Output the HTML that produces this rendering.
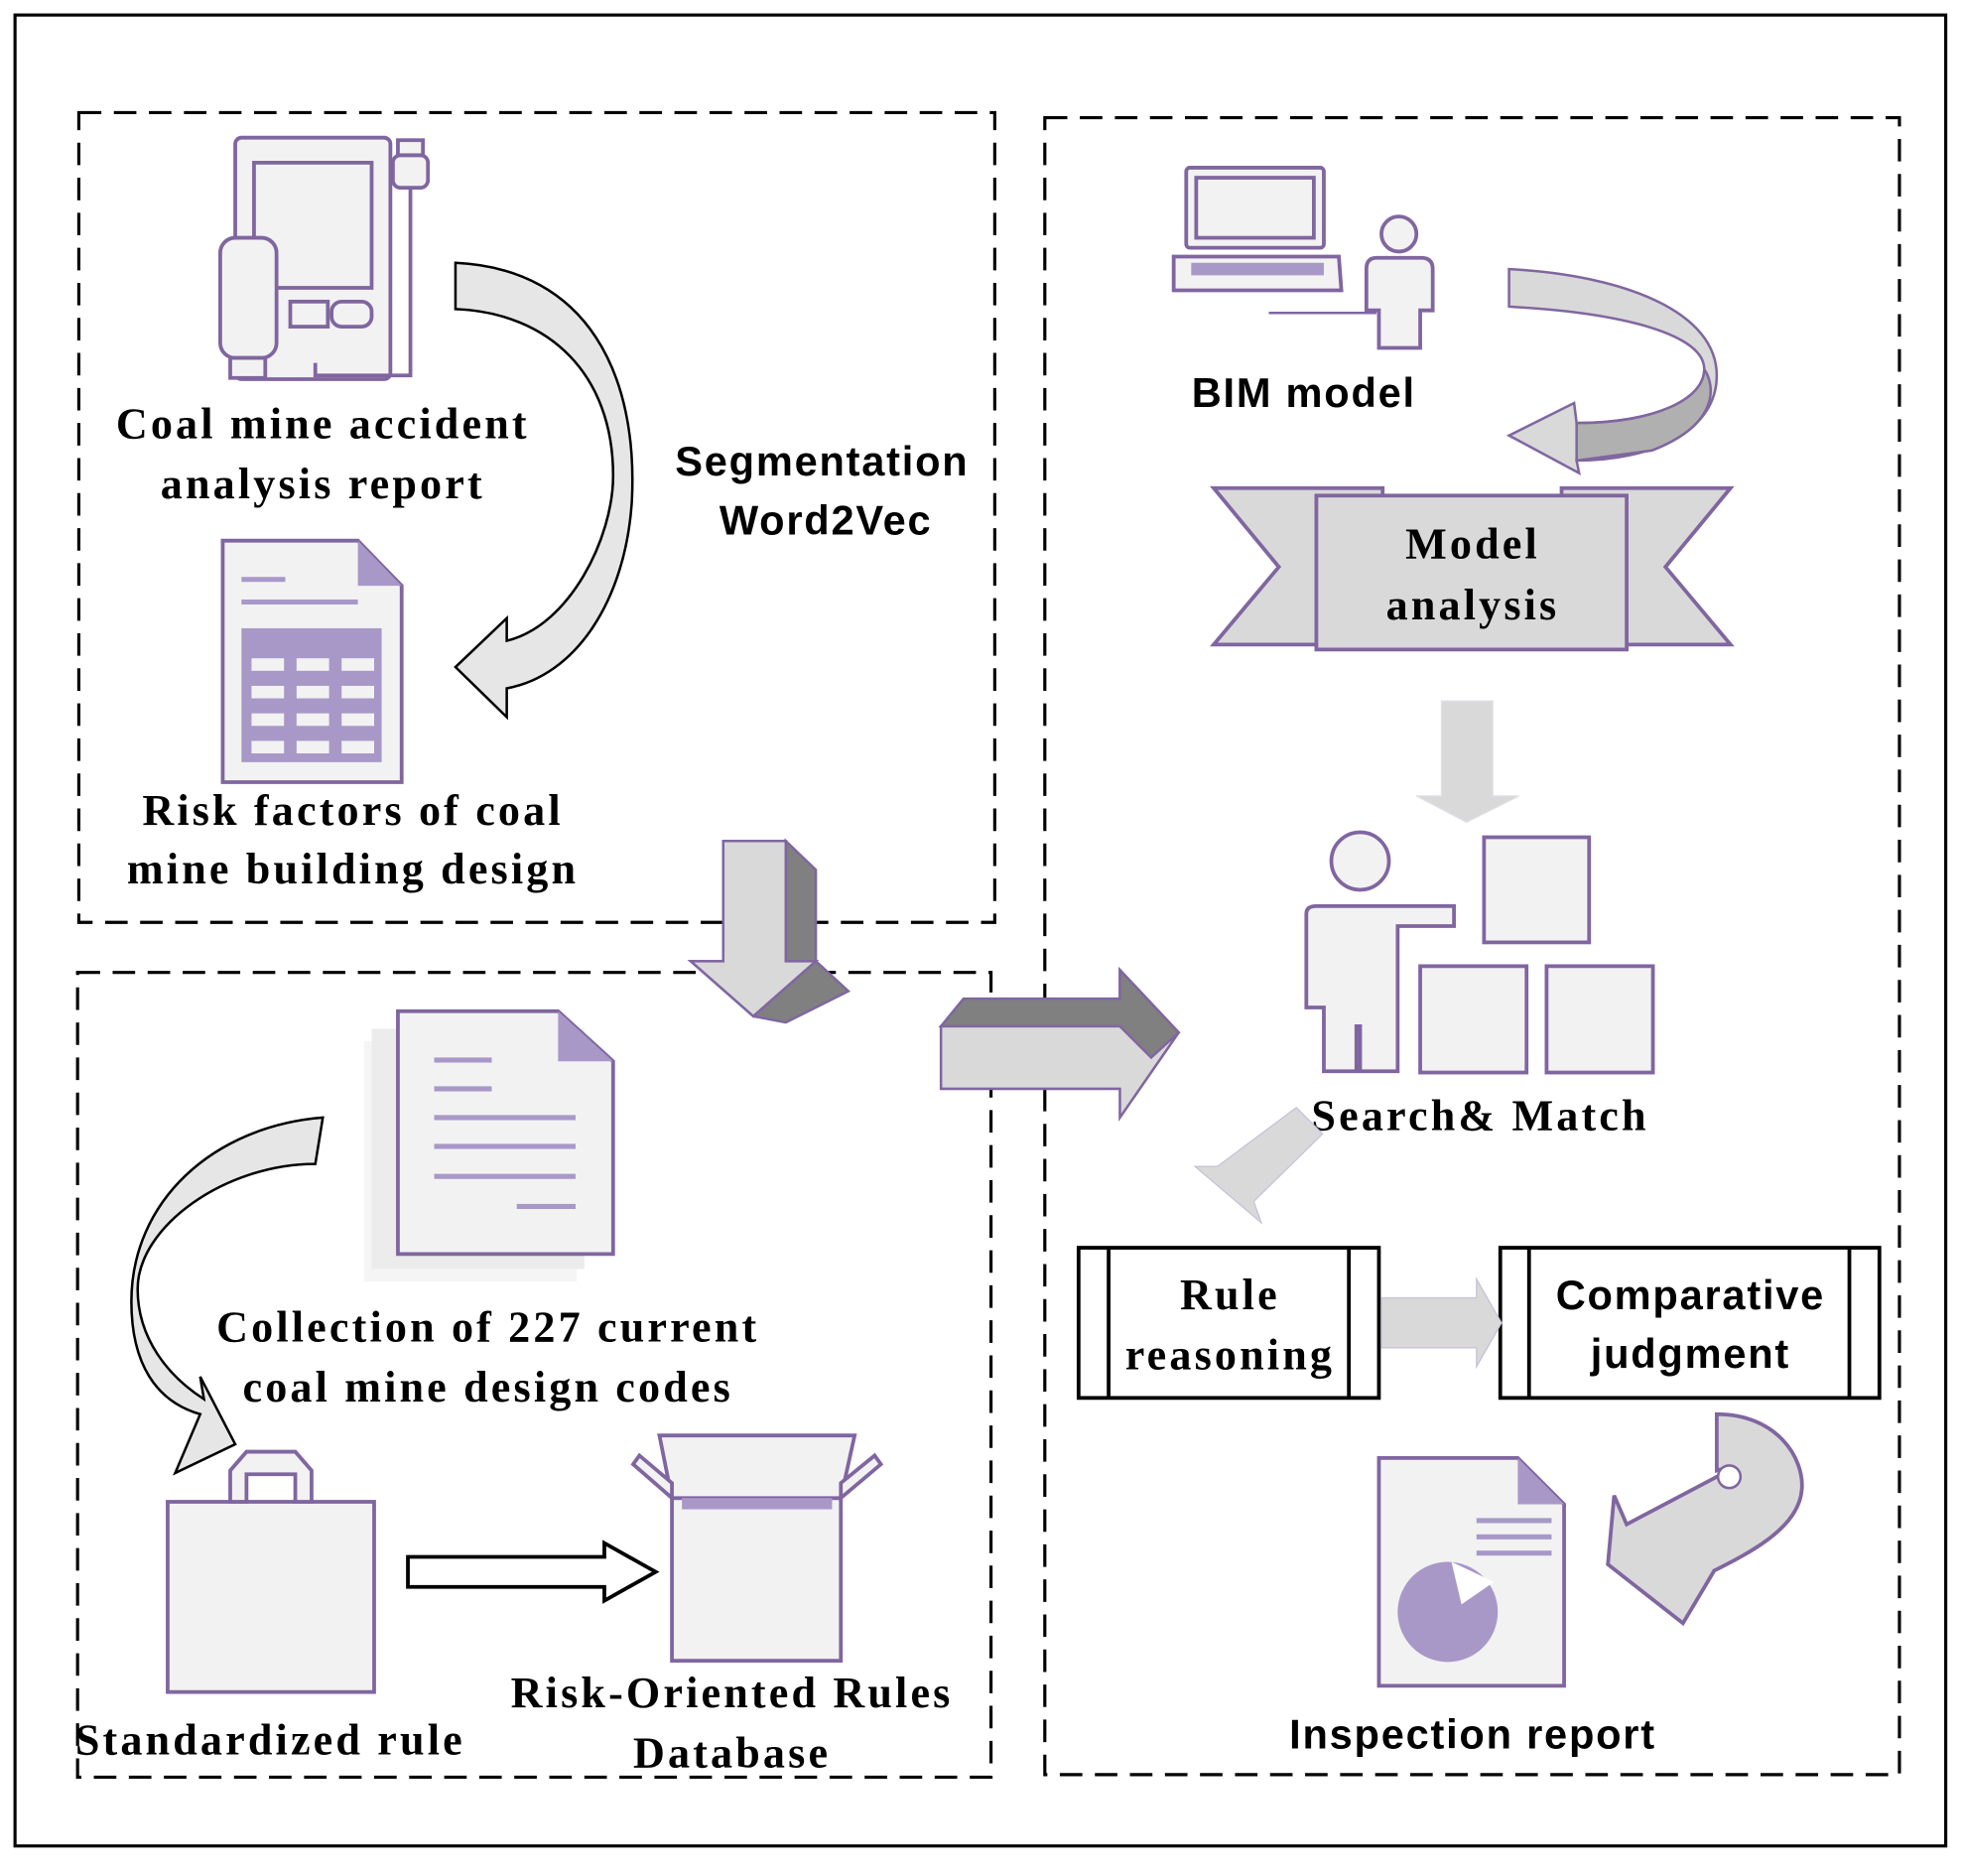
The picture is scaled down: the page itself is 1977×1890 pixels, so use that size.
<!DOCTYPE html>
<html><head><meta charset="utf-8"><style>html,body{margin:0;padding:0;background:#fff}svg{display:block}
.s{font-family:"Liberation Serif",serif;font-weight:bold;font-size:35px;text-anchor:middle;letter-spacing:2.5px}
.a{font-family:"Liberation Sans",sans-serif;font-weight:bold;font-size:33px;text-anchor:middle;letter-spacing:1.4px}
.p{fill:#f2f2f2;stroke:#8066a0;stroke-width:3}
.d{fill:none;stroke:#000;stroke-width:2.5;stroke-dasharray:18 10}
</style></head><body>
<svg width="1977" height="1890" viewBox="0 0 1568 1499" preserveAspectRatio="none" xmlns="http://www.w3.org/2000/svg">
<rect x="12" y="12" width="1543" height="1463" fill="none" stroke="#000" stroke-width="2.5"/>
<rect class="d" x="63" y="90" width="732" height="647"/>
<rect class="d" x="62" y="777" width="730" height="643"/>
<rect class="d" x="835" y="94" width="683" height="1324"/>

<rect class="p" x="188" y="110" width="124" height="193" rx="5"/>
<rect class="p" x="203" y="130" width="94" height="100"/>
<rect class="p" x="232" y="241" width="30" height="20"/><rect class="p" x="265" y="241" width="32" height="20" rx="8"/>
<rect class="p" x="176" y="190" width="45" height="96" rx="12"/>
<rect class="p" x="184" y="286" width="28" height="16"/>
<path d="M328 140 V300 H252 V290" fill="none" stroke="#8066a0" stroke-width="3"/>
<rect class="p" x="314" y="124" width="28" height="26" rx="6"/><rect class="p" x="318" y="112" width="20" height="12"/>

<path d="M364 210 C470 215 510 300 505 400 C500 480 460 540 405 550 L405 573 L364 533 L405 494 L405 512 C455 500 490 430 490 380 C490 300 440 250 364 247 Z" fill="#e6e6e6" stroke="#000" stroke-width="2"/>

<path class="p" d="M178 432 H286 L321 468 V625 H178 Z"/>
<path d="M286 432 V468 H321 Z" fill="#a898c8"/>
<line x1="193" y1="463" x2="228" y2="463" stroke="#a898c8" stroke-width="4"/>
<line x1="193" y1="481" x2="286" y2="481" stroke="#a898c8" stroke-width="4"/>
<rect x="193" y="502" width="112" height="107" fill="#a898c8"/>
<g fill="#f2f2f2">
<rect x="201" y="526" width="26" height="10"/><rect x="237" y="526" width="26" height="10"/><rect x="273" y="526" width="26" height="10"/>
<rect x="201" y="548" width="26" height="10"/><rect x="237" y="548" width="26" height="10"/><rect x="273" y="548" width="26" height="10"/>
<rect x="201" y="570" width="26" height="10"/><rect x="237" y="570" width="26" height="10"/><rect x="273" y="570" width="26" height="10"/>
<rect x="201" y="592" width="26" height="10"/><rect x="237" y="592" width="26" height="10"/><rect x="273" y="592" width="26" height="10"/>
</g>

<text class="s" x="258" y="350">Coal mine accident</text>
<text class="s" x="258" y="398">analysis report</text>
<text class="a" x="657" y="380">Segmentation</text>
<text class="a" x="660" y="427">Word2Vec</text>
<text class="s" x="282" y="659">Risk factors of coal</text>
<text class="s" x="282" y="706">mine building design</text>

<path d="M578 672 H628 V768 H552 L602 812 L628 768 V672 L652 695 V768 L678 792 L628 817 L602 812" fill="#808080" stroke="#8066a0" stroke-width="2"/>
<path d="M578 672 H628 V768 H652 L602 812 L552 768 H578 Z" fill="#d9d9d9" stroke="#8066a0" stroke-width="2"/>

<path d="M752 820 H895 V775 L942 825 L895 893 V870 H752 Z" fill="#d9d9d9" stroke="#8066a0" stroke-width="2"/>
<path d="M752 820 L770 798 H895 V775 L942 825 L920 845 L895 820 Z" fill="#808080" stroke="#8066a0" stroke-width="2"/>

<rect class="p" x="948" y="134" width="110" height="64" rx="3"/>
<rect class="p" x="956" y="142" width="94" height="48"/>
<path class="p" d="M938 205 H1070 L1072 232 H938 Z"/>
<rect x="952" y="210" width="106" height="10" fill="#a898c8"/>
<line x1="1014" y1="250" x2="1100" y2="250" stroke="#8066a0" stroke-width="2"/>
<circle class="p" cx="1118" cy="187" r="14"/>
<path class="p" d="M1100 206 H1136 Q1145 206 1145 215 V248 H1135 V278 H1102 V248 H1092 V215 Q1092 206 1100 206 Z"/>
<text class="a" x="1042" y="325">BIM model</text>

<path d="M1206 215 C1300 220 1372 250 1372 300 C1372 345 1320 368 1260 368 L1262 378 L1206 348 L1258 322 L1260 338 C1320 338 1362 320 1362 295 C1362 268 1300 250 1206 245 Z" fill="#d9d9d9" stroke="#8066a0" stroke-width="2"/>
<path d="M1362 295 C1372 310 1372 340 1320 360 L1260 368 L1260 338 C1320 338 1362 320 1362 295Z" fill="#b0b0b0" stroke="#8066a0" stroke-width="2"/>

<path d="M970 390 H1105 V515 H970 L1022 453 Z" fill="#d9d9d9" stroke="#8066a0" stroke-width="3"/>
<path d="M1383 390 H1248 V515 H1383 L1331 453 Z" fill="#d9d9d9" stroke="#8066a0" stroke-width="3"/>
<rect x="1052" y="396" width="248" height="123" fill="#d9d9d9" stroke="#8066a0" stroke-width="3"/>
<text class="s" x="1177" y="446">Model</text>
<text class="s" x="1177" y="495">analysis</text>

<path d="M1152 560 H1193 V636 H1214 L1172 657 L1132 636 H1152 Z" fill="#d9d9d9" stroke="#e0e0e8" stroke-width="1"/>

<circle class="p" cx="1087" cy="688" r="23"/>
<path class="p" d="M1052 724 H1162 V740 H1117 V856 H1087 V820 H1084 V856 H1058 V805 H1044 V730 Q1044 724 1052 724 Z"/>
<rect class="p" x="1186" y="669" width="84" height="84"/>
<rect class="p" x="1135" y="772" width="85" height="85"/>
<rect class="p" x="1236" y="772" width="85" height="85"/>
<text class="s" x="1183" y="903">Search&amp; Match</text>

<path d="M1036 885 L1057 906 L1002 960 L1008 977 L955 932 L973 932 Z" fill="#d9d9d9" stroke="#c8c0d8" stroke-width="1"/>

<rect x="862" y="997" width="240" height="120" fill="#fff" stroke="#000" stroke-width="3"/>
<line x1="886" y1="997" x2="886" y2="1117" stroke="#000" stroke-width="3"/><line x1="1078" y1="997" x2="1078" y2="1117" stroke="#000" stroke-width="3"/>
<text class="s" x="983" y="1046">Rule</text><text class="s" x="983" y="1094">reasoning</text>
<rect x="1199" y="997" width="303" height="120" fill="#fff" stroke="#000" stroke-width="3"/>
<line x1="1222" y1="997" x2="1222" y2="1117" stroke="#000" stroke-width="3"/><line x1="1478" y1="997" x2="1478" y2="1117" stroke="#000" stroke-width="3"/>
<text class="a" x="1351" y="1046">Comparative</text><text class="a" x="1351" y="1093">judgment</text>
<path d="M1104 1037 H1180 V1022 L1200 1057 L1180 1092 V1077 H1104 Z" fill="#d9d9d9" stroke="#c8c0d8" stroke-width="1"/>

<path d="M1372 1130 C1420 1130 1442 1165 1440 1190 C1438 1220 1400 1240 1370 1255 L1345 1297 L1285 1250 L1290 1195 L1300 1218 L1372 1180 C1392 1178 1390 1170 1372 1175 Z" fill="#d9d9d9" stroke="#8066a0" stroke-width="3"/>
<ellipse cx="1382" cy="1180" rx="9" ry="9" fill="#fff" stroke="#8066a0" stroke-width="2"/>
<path class="p" d="M1102 1165 H1213 L1250 1202 V1347 H1102 Z"/>
<path d="M1213 1165 V1202 H1250 Z" fill="#a898c8"/>
<line x1="1180" y1="1215" x2="1240" y2="1215" stroke="#a898c8" stroke-width="4"/>
<line x1="1180" y1="1228" x2="1240" y2="1228" stroke="#a898c8" stroke-width="4"/>
<line x1="1180" y1="1241" x2="1240" y2="1241" stroke="#a898c8" stroke-width="4"/>
<circle cx="1157" cy="1288" r="40" fill="#a898c8"/>
<path d="M1160 1248 L1168 1282 L1194 1264 Z" fill="#fff"/>
<text class="a" x="1177" y="1397">Inspection report</text>

<rect x="291" y="832" width="170" height="192" fill="#f5f5f5"/>
<rect x="297" y="822" width="170" height="192" fill="#ececec"/>
<path class="p" d="M318 808 H446 L490 848 V1002 H318 Z"/>
<path d="M446 808 V848 H490 Z" fill="#a898c8"/>
<g stroke="#a898c8" stroke-width="4">
<line x1="347" y1="847" x2="393" y2="847"/><line x1="347" y1="870" x2="393" y2="870"/>
<line x1="347" y1="893" x2="460" y2="893"/><line x1="347" y1="916" x2="460" y2="916"/>
<line x1="347" y1="940" x2="460" y2="940"/><line x1="413" y1="964" x2="460" y2="964"/>
</g>
<text class="s" x="390" y="1072">Collection of 227 current</text>
<text class="s" x="390" y="1120">coal mine design codes</text>

<path d="M258 893 C170 900 105 960 105 1040 C105 1090 125 1120 160 1130 L140 1177 L188 1154 L160 1100 L163 1118 C135 1100 110 1070 110 1030 C110 980 180 930 252 930 Z" fill="#e6e6e6" stroke="#000" stroke-width="2"/>

<rect class="p" x="134" y="1200" width="165" height="152"/>
<path class="p" d="M184 1200 V1175 L197 1160 H236 L249 1175 V1200 H236 V1178 H197 V1200 Z"/>
<text class="s" x="216" y="1402">Standardized rule</text>

<path d="M326 1244 H483 V1233 L524 1256 L483 1279 V1268 H326 Z" fill="#fff" stroke="#000" stroke-width="3"/>

<rect class="p" x="537" y="1197" width="135" height="130"/>
<path class="p" d="M527 1147 H683 L672 1197 H537 Z"/>
<path class="p" d="M537 1197 L506 1170 L511 1163 L537 1185 Z"/>
<path class="p" d="M672 1197 L704 1170 L699 1163 L672 1185 Z"/>
<rect x="545" y="1197" width="120" height="9" fill="#a898c8"/>
<text class="s" x="585" y="1364">Risk-Oriented Rules</text>
<text class="s" x="585" y="1412">Database</text>
</svg>
</body></html>
